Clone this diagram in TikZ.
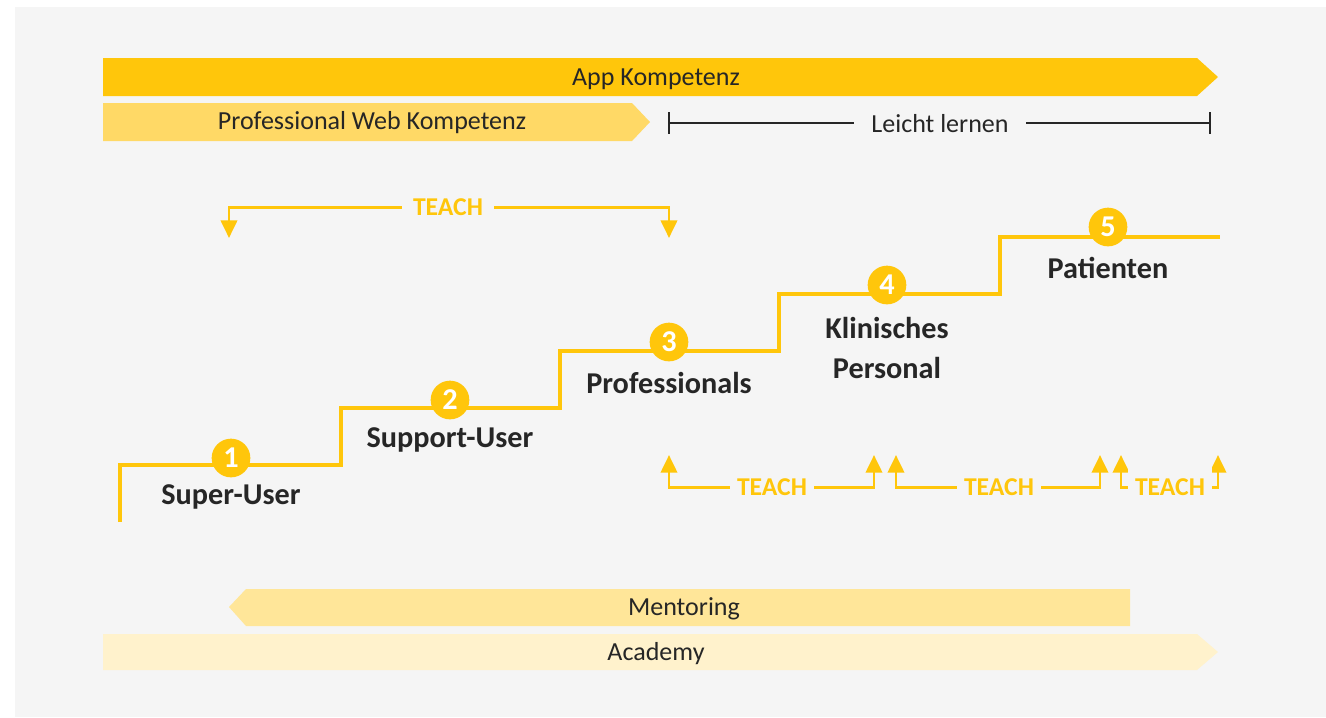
\documentclass[tikz,border=0pt]{standalone}
\usepackage{fontspec}
\setmainfont{Carlito}
\usetikzlibrary{arrows.meta}

\definecolor{bgc}{HTML}{F5F5F5}
\definecolor{gold}{HTML}{FFC60B}
\definecolor{goldlight}{HTML}{FFD966}
\definecolor{goldpale}{HTML}{FFE699}
\definecolor{goldpaler}{HTML}{FFF2CC}
\definecolor{txt}{HTML}{262626}

\tikzset{
  bartext/.style={text=txt, font=\fontsize{7.4}{9}\selectfont},
  steptext/.style={text=txt, font=\fontsize{8.6}{11.3}\selectfont\bfseries, align=center},
  stepline/.style={draw=gold, line width=1.15pt},
  numcircle/.style={circle, fill=gold, minimum size=11pt, inner sep=0pt, text=white, font=\fontsize{8.6}{9}\selectfont\bfseries},
  teach/.style={draw=gold, line width=0.85pt, {Triangle[length=5pt,width=4.6pt]}-{Triangle[length=5pt,width=4.6pt]}},
  teachtext/.style={fill=bgc, text=gold, inner xsep=2pt, font=\fontsize{7.3}{9}\selectfont\bfseries}
}

\begin{document}
\begin{tikzpicture}[x=0.01cm, y=-0.01cm]
    \useasboundingbox (0,0) rectangle (1326,717);
    \fill[bgc] (15,7) rectangle (1326,717);

    % bars at the top
    \fill[gold] (103,58) -- (1197,58) -- (1218,77) -- (1197,96) -- (103,96) -- cycle;
    \node[bartext] (app) at (656,79) {App Kompetenz};
    \fill[goldlight] (103,103) -- (632,103) -- (650,122) -- (632,141) -- (103,141) -- cycle;
    \node[bartext] (web) at (372,123) {Professional Web Kompetenz};

    \coordinate (ll1) at (668,123);
    \coordinate (ll2) at (1211,123);
    \draw[txt, line width=0.7pt, {Bar[width=6pt]}-{Bar[width=6pt]}] (ll1) -- (ll2);
    \node[bartext, fill=bgc, inner xsep=5pt] (leicht) at (940,124) {Leicht lernen};

    % TEACH from the super-user
    \coordinate (t1) at (229,238);
    \coordinate (t1c) at (229,207);
    \coordinate (t2c) at (669,207);
    \coordinate (t2) at (669,238);
    \draw[teach] (t1) -- (t1c) -- (t2c) -- (t2);
    \node[teachtext, inner xsep=3pt] (teachtop) at (448,207) {TEACH};

    % stairs
    \coordinate (s0) at (120,522);
    \draw[stepline] (s0) -- (120,465) -- (341,465) -- (341,408) -- (560,408) -- (560,351)
        -- (779,351) -- (779,294) -- (1000,294) -- (1000,237) -- (1220,237);

    \node[numcircle] (n1) at (231,458) {1};
    \node[numcircle] (n2) at (450,400) {2};
    \node[numcircle] (n3) at (669,342) {3};
    \node[numcircle] (n4) at (887,285) {4};
    \node[numcircle] (n5) at (1108,227) {5};

    \node[steptext] (super) at (231,497) {Super-User};
    \node[steptext] (support) at (450,440) {Support-User};
    \node[steptext] (prof) at (669,383) {Professionals};
    \node[steptext] (klin) at (887,348) {Klinisches\\Personal};
    \node[steptext] (pat) at (1108,268) {Patienten};

    % TEACH between the lower steps
    \foreach \a/\b/\m [count=\i] in {669/874/772, 896/1100/999, 1121/1218/1170}{
        \coordinate (u\i a) at (\a,455);
        \coordinate (u\i b) at (\b,455);
        \draw[teach] (u\i a) -- (\a,487) -- (\b,487) -- (u\i b);
        \node[teachtext] (teach\i) at (\m,487) {TEACH};
    }

    % bars at the bottom
    \fill[goldpale] (246,589) -- (1130,589) -- (1130,626) -- (246,626) -- (229,607) -- cycle;
    \node[bartext] (ment) at (684,609) {Mentoring};
    \fill[goldpaler] (103,634) -- (1197,634) -- (1218,652) -- (1197,670) -- (103,670) -- cycle;
    \node[bartext] (acad) at (656,654) {Academy};
\end{tikzpicture}
\end{document}
